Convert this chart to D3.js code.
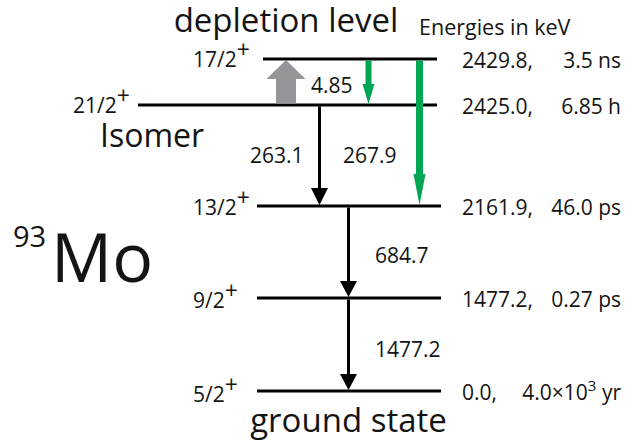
<!DOCTYPE html>
<html><head><meta charset="utf-8">
<script src="https://cdn.jsdelivr.net/npm/d3@7"></script>
<style>
html,body{margin:0;padding:0;background:#fff;}
svg{display:block;font-family:"Open Sans",sans-serif;}
</style></head><body>
<svg id="chart" width="638" height="442"></svg>
<script>
// ---------- data ----------
const levelSpins = ["5/2", "9/2", "13/2", "21/2", "17/2"];
const levelParity = ["+", "+", "+", "+", "+"];
const levelEnergies = [0.0, 1477.2, 2161.9, 2425.0, 2429.8];
const levelEnergyLabels = ["0.0,", "1477.2,", "2161.9,", "2425.0,", "2429.8,"];
const levelLifetimes = ["4.0×10^3 yr", "0.27 ps", "46.0 ps", "6.85 h", "3.5 ns"];

const transFrom = ["21/2", "17/2", "17/2", "21/2", "13/2", "9/2"];
const transTo = ["17/2", "21/2", "13/2", "13/2", "9/2", "5/2"];
const transLabels = ["", "4.85", "267.9", "263.1", "684.7", "1477.2"];
const transKinds = ["depletion", "decay", "decay", "isomer", "cascade", "cascade"];

const nuclideMass = "93";
const nuclideSymbol = "Mo";
const titleText = "depletion level";
const unitText = "Energies in keV";
const isomerText = "Isomer";
const groundText = "ground state";

// ---------- layout (positions / styles) ----------
const W = 638, H = 442;
const svg = d3.select("#chart");
const ink = "#141414";
const colors = {depletion: "#939598", decay: "#00a651", isomer: "#000", cascade: "#000"};

// schematic (piecewise) energy scale
const y = d3.scaleLinear().domain(levelEnergies).range([391, 298, 206, 105, 59]);

const levelExtent = {
  "5/2": [257, 441], "9/2": [257, 441], "13/2": [257, 441],
  "21/2": [138, 437], "17/2": [263, 437]
};
const spinLabelPos = {
  "5/2": {x: 193, anchor: "start", dy: 11},
  "9/2": {x: 193, anchor: "start", dy: 10},
  "13/2": {x: 193, anchor: "start", dy: 9},
  "21/2": {x: 130, anchor: "end", dy: 8},
  "17/2": {x: 193, anchor: "start", dy: 8}
};
const arrowLayout = [
  {x: 286, sw: 20, hw: 39, hl: 19},
  {x: 368.5, sw: 6, hw: 12, hl: 20, lx: 311, ly: 93},
  {x: 419.5, sw: 7, hw: 12, hl: 31, lx: 343, ly: 163},
  {x: 319.5, sw: 3, hw: 17, hl: 17, lx: 250, ly: 163},
  {x: 348.5, sw: 3, hw: 17, hl: 16, lx: 375, ly: 263},
  {x: 348.5, sw: 3, hw: 17, hl: 16, lx: 375, ly: 357}
];

const energyOf = s => levelEnergies[levelSpins.indexOf(s)];

// ---------- level lines ----------
svg.append("g").selectAll("line").data(levelSpins).join("line")
  .attr("x1", s => levelExtent[s][0])
  .attr("x2", s => levelExtent[s][1])
  .attr("y1", s => y(energyOf(s)))
  .attr("y2", s => y(energyOf(s)))
  .attr("stroke", "#000").attr("stroke-width", 3);

// ---------- spin labels ----------
const spinG = svg.append("g").attr("fill", ink);
levelSpins.forEach((s, i) => {
  const p = spinLabelPos[s];
  const t = spinG.append("text")
    .attr("x", p.x).attr("y", y(levelEnergies[i]) + p.dy)
    .attr("text-anchor", p.anchor)
    .attr("font-size", 21);
  t.append("tspan").text(s);
  t.append("tspan").attr("dy", -9).attr("font-size", 23).text(levelParity[i]);
});

// ---------- energy / lifetime labels ----------
const rightG = svg.append("g").attr("fill", ink).attr("font-size", 21);
levelEnergies.forEach((e, i) => {
  const yy = y(e) + 9;
  rightG.append("text").attr("x", 462).attr("y", yy).text(levelEnergyLabels[i]);
  const lt = rightG.append("text").attr("x", 621).attr("y", yy).attr("text-anchor", "end");
  const m = levelLifetimes[i].match(/^(.*)\^(\S+)(.*)$/);
  if (m) {
    lt.append("tspan").text(m[1]);
    lt.append("tspan").attr("dy", -9).attr("font-size", 15).text(m[2]);
    lt.append("tspan").attr("dy", 9).text(m[3]);
  } else {
    lt.text(levelLifetimes[i]);
  }
});

// ---------- transitions ----------
function arrowPath(x, yFrom, yTo, sw, hw, hl) {
  const dir = yTo > yFrom ? 1 : -1;
  const tip = yTo - dir * 1;
  const start = yFrom + dir * 1.5;
  const base = tip - dir * hl;
  return d3.line()([
    [x - sw / 2, start], [x + sw / 2, start], [x + sw / 2, base],
    [x + hw / 2, base], [x, tip], [x - hw / 2, base], [x - sw / 2, base]
  ]) + "Z";
}
const trG = svg.append("g");
transFrom.forEach((f, i) => {
  const L = arrowLayout[i];
  const y1 = y(energyOf(f)), y2 = y(energyOf(transTo[i]));
  trG.append("path")
    .attr("d", arrowPath(L.x, y1, y2, L.sw, L.hw, L.hl))
    .attr("fill", colors[transKinds[i]]);
  if (transLabels[i]) {
    trG.append("text").attr("x", L.lx).attr("y", L.ly)
      .attr("font-size", 21).attr("fill", ink).text(transLabels[i]);
  }
});

// ---------- annotations ----------
svg.append("text").attr("x", 286).attr("y", 32).attr("text-anchor", "middle")
  .attr("font-size", 33).attr("fill", ink).text(titleText);
svg.append("text").attr("x", 419).attr("y", 35)
  .attr("font-size", 21.5).attr("fill", ink).text(unitText);
svg.append("text").attr("x", 100).attr("y", 147)
  .attr("font-size", 32).attr("fill", ink).text(isomerText);
svg.append("text").attr("x", 348.5).attr("y", 432).attr("text-anchor", "middle")
  .attr("font-size", 33).attr("fill", ink).text(groundText);
const nuc = svg.append("text").attr("fill", ink);
nuc.append("tspan").attr("x", 13).attr("y", 247).attr("font-size", 29).text(nuclideMass);
nuc.append("tspan").attr("x", 51).attr("y", 282).attr("font-size", 68).text(nuclideSymbol);
</script>
</body></html>
